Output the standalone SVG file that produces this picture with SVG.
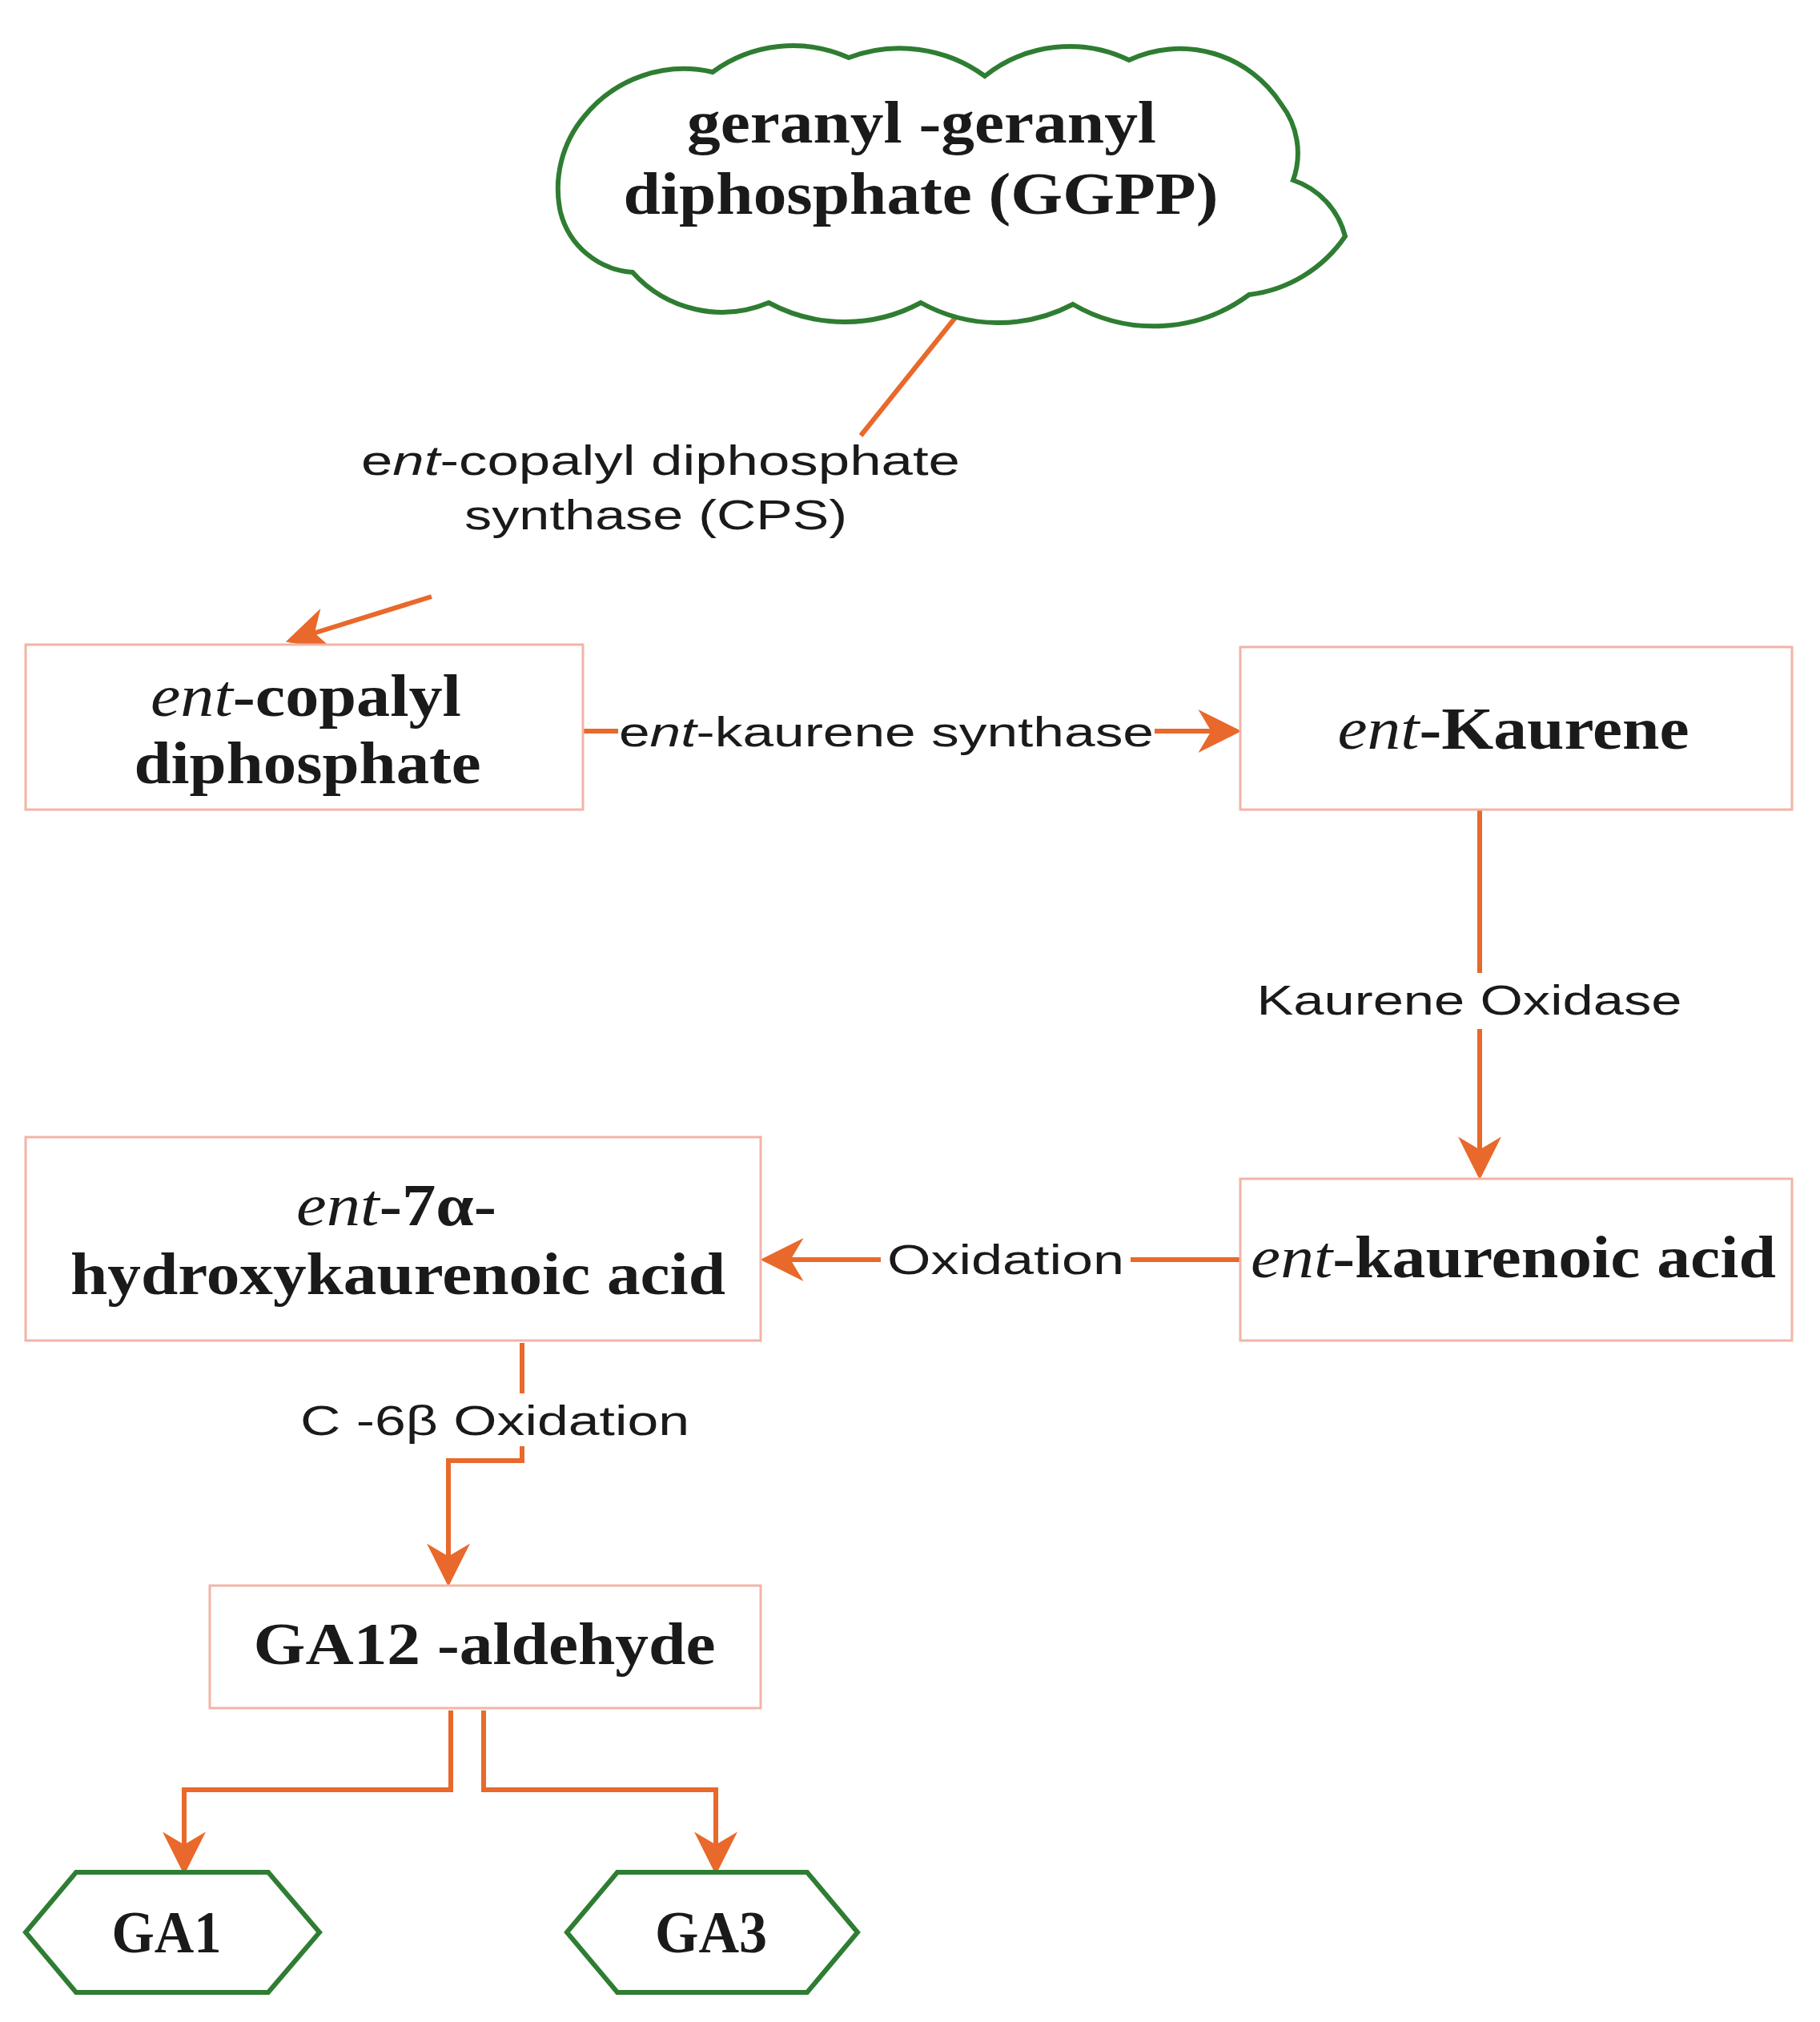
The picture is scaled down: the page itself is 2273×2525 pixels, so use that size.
<svg xmlns="http://www.w3.org/2000/svg" width="2273" height="2525" viewBox="0 0 2273 2525">
<style>
.box{fill:#fff;stroke:#f2b4a6;stroke-width:3}
.g{fill:#fff;stroke:#2e7d32;stroke-width:6}
.n{font-family:"Liberation Serif",serif;font-weight:bold;font-size:74px;fill:#1a1a1a;text-anchor:middle}
.l{font-family:"Liberation Sans",sans-serif;font-size:52px;fill:#1a1a1a;text-anchor:middle}
.c{fill:none;stroke:#e8692b;stroke-width:6}
.bg{fill:#fff}
</style>
<defs>
<marker id="a" viewBox="0 0 10 10" refX="9" refY="5" markerWidth="9" markerHeight="9" orient="auto" markerUnits="strokeWidth">
<path d="M0,0 L10,5 L0,10 L3,5 Z" fill="#e8692b"/>
</marker>
</defs>
<rect width="2273" height="2525" fill="#fff"/>
<g id="connectors">
<path class="c" d="M1204,383 L1075,544"/>
<path class="c" d="M539,745 L362,800" marker-end="url(#a)"/>
<path class="c" d="M728,913 L1545,913" marker-end="url(#a)"/>
<path class="c" d="M1848,1011 L1848,1468" marker-end="url(#a)"/>
<path class="c" d="M1549,1573 L955,1573" marker-end="url(#a)"/>
<path class="c" d="M652,1677 L652,1824 L560,1824 L560,1976" marker-end="url(#a)"/>
<path class="c" d="M563,2136 L563,2235 L230,2235 L230,2336" marker-end="url(#a)"/>
<path class="c" d="M604,2136 L604,2235 L894,2235 L894,2336" marker-end="url(#a)"/>
<rect class="bg" x="1560" y="1215" width="550" height="70"/>
<rect class="bg" x="1100" y="1545" width="312" height="56"/>
<rect class="bg" x="370" y="1740" width="500" height="66"/>
<rect class="bg" x="772" y="888" width="670" height="54"/>
<text class="l" x="825" y="593" textLength="748" lengthAdjust="spacingAndGlyphs">e<tspan font-style="italic">nt</tspan>-copalyl diphosphate</text>
<text class="l" x="819" y="661" textLength="478" lengthAdjust="spacingAndGlyphs">synthase (CPS)</text>
<text class="l" x="1107" y="932" textLength="668" lengthAdjust="spacingAndGlyphs">e<tspan font-style="italic">nt</tspan>-kaurene synthase</text>
<text class="l" x="1835" y="1267" textLength="531" lengthAdjust="spacingAndGlyphs">Kaurene Oxidase</text>
<text class="l" x="1256" y="1591" textLength="296" lengthAdjust="spacingAndGlyphs">Oxidation</text>
<text class="l" x="618" y="1792" textLength="486" lengthAdjust="spacingAndGlyphs">C -6β Oxidation</text>
</g>
<g id="ggpp">
<path class="g" d="M700,265 A140,140 0 0 1 730,145 A160,160 0 0 1 890,90 A170,170 0 0 1 1060,72 A180,180 0 0 1 1230,95 A170,170 0 0 1 1410,75 A150,150 0 0 1 1600,130 A100,100 0 0 1 1615,225 A100,100 0 0 1 1680,295 A170,170 0 0 1 1560,368 A200,200 0 0 1 1340,380 A200,200 0 0 1 1150,378 A200,200 0 0 1 960,378 A150,150 0 0 1 790,340 A100,100 0 0 1 700,265 Z"/>
<text class="n" x="1151" y="178" textLength="586" lengthAdjust="spacingAndGlyphs">geranyl -geranyl</text>
<text class="n" x="1150" y="267" textLength="743" lengthAdjust="spacingAndGlyphs">diphosphate (GGPP)</text>
</g>
<g id="copalyl">
<rect class="box" x="32" y="805" width="696" height="206"/>
<text class="n" x="382" y="894" textLength="388" lengthAdjust="spacingAndGlyphs"><tspan font-style="italic" font-weight="normal">ent</tspan>-copalyl</text>
<text class="n" x="384" y="978" textLength="433" lengthAdjust="spacingAndGlyphs">diphosphate</text>
</g>
<g id="kaurene">
<rect class="box" x="1549" y="808" width="689" height="203"/>
<text class="n" x="1890" y="935" textLength="439" lengthAdjust="spacingAndGlyphs"><tspan font-style="italic" font-weight="normal">ent</tspan>-Kaurene</text>
</g>
<g id="kaurenoic">
<rect class="box" x="1549" y="1472" width="689" height="202"/>
<text class="n" x="1890" y="1595" textLength="656" lengthAdjust="spacingAndGlyphs"><tspan font-style="italic" font-weight="normal">ent</tspan>-kaurenoic acid</text>
</g>
<g id="hydroxy">
<rect class="box" x="32" y="1420" width="918" height="254"/>
<text class="n" x="495" y="1530" textLength="250" lengthAdjust="spacingAndGlyphs"><tspan font-style="italic" font-weight="normal">ent</tspan>-7α-</text>
<text class="n" x="497" y="1616" textLength="818" lengthAdjust="spacingAndGlyphs">hydroxykaurenoic acid</text>
</g>
<g id="ga12">
<rect class="box" x="262" y="1980" width="688" height="153"/>
<text class="n" x="605" y="2078" textLength="577" lengthAdjust="spacingAndGlyphs">GA12 -aldehyde</text>
</g>
<g id="ga1">
<polygon class="g" points="32,2413 95,2338 335,2338 399,2413 335,2488 95,2488"/>
<text class="n" x="208" y="2438" textLength="137" lengthAdjust="spacingAndGlyphs">GA1</text>
</g>
<g id="ga3">
<polygon class="g" points="708,2413 771,2338 1008,2338 1071,2413 1008,2488 771,2488"/>
<text class="n" x="888" y="2438" textLength="140" lengthAdjust="spacingAndGlyphs">GA3</text>
</g>
</svg>
